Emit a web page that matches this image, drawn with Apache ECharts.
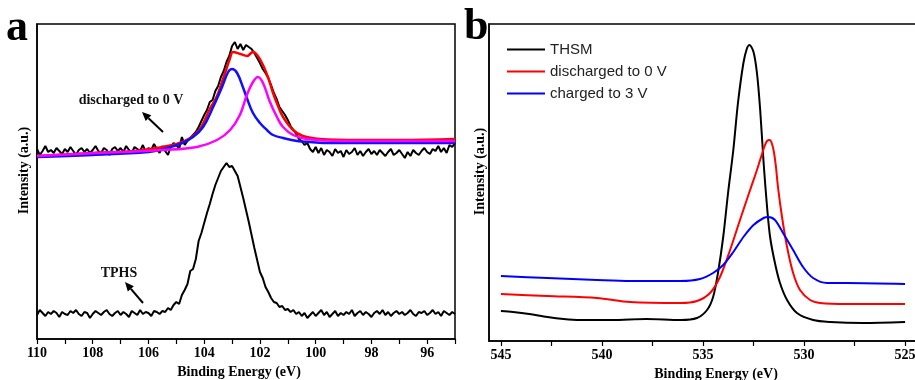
<!DOCTYPE html>
<html><head><meta charset="utf-8">
<script src="https://cdn.jsdelivr.net/npm/echarts@6/dist/echarts.min.js"></script>
<style>html,body{margin:0;padding:0;background:#fff}#c{width:915px;height:380px}</style>
</head><body><div id="c"></div>
<script>
// ---------- Panel a (Si 2p), energy grid 110 -> 95 eV, step 0.1 ----------
const aStartEnergy = 110, aStep = 0.1;
const aDischarged = [
190,184,188,193,187,189,186,191,188,185,
190,187,192,188,184,189,191,187,190,186,
189,193,188,186,191,189,184,190,192,188,
191,187,193,189,186,192,190,188,194,187,
191,189,195,190,186,193,188,184,192,196,
194,
190,202,194,198,201,204,207,212,218,224,
229,237,239,248,253,262,268,277,283,293,
297,290,295,289,294,292,290,286,281,276,
270,266,261,254,246,240,232,228,224,219,
213,209,205,200,198,194,196,190,187,192,
186,191,184,189,187,183,190,186,188,182,
189,185,187,191,184,188,183,187,190,185,
188,184,189,186,183,187,190,184,186,189,
185,181,187,183,189,186,184,188,191,187,
185,190,188,193,187,191,186,194,192,196
];
const aTPHS = [
24,29,26,23,27,25,28,26,22,27,
25,24,28,26,29,25,23,27,26,21,
25,28,26,24,27,29,25,23,26,28,
24,27,25,22,28,26,24,29,25,27,
26,23,28,27,25,
28,27,31,29,34,37,35,44,49,55,
68,70,80,98,106,116,126,135,145,154,
161,168,172,176,172,173,168,163,152,141,
129,117,104,91,79,67,61,52,47,41,
37,36,32,33,29,30,27,29,25,27,
23,26,21,24,27,23,
26,29,24,27,22,25,28,23,26,24,
27,25,29,23,26,28,24,27,25,22,
26,28,25,29,24,27,23,26,28,25,
27,24,26,29,25,23,27,26,28,24,
26,29,25,27,23,28,26,24,27,25
];
const aFitEnvelope = [[110,183],[108,186],[106.5,188],[105.5,192],[105,195],[104.5,201],[104.15,210],[103.8,230],[103.54,243],[103.35,258],[103.18,272],[103.07,281],[102.97,287],[102.7,285],[102.46,283],[102.25,287],[102.1,284],[101.89,274],[101.7,261],[101.53,246],[101.35,233],[101.17,222],[100.81,209],[100.46,203],[99.85,200],[98.5,199],[97,199],[95,200]];
const aFitPeak1 = [[110,182],[108,184],[106,187],[105.48,190],[104.87,195],[104.4,202],[104.04,212],[103.68,232],[103.36,252],[103.14,267],[103.0,270],[102.82,266],[102.6,251],[102.47,241],[102.25,226],[102.0,216],[101.75,209],[101.53,204],[101.17,201],[100.67,198],[100.2,197],[99.5,196],[97,196],[95,196]];
const aFitPeak2 = [[110,183],[107.85,186],[105.48,189],[104.26,192],[103.54,199],[103.07,209],[102.72,224],[102.47,244],[102.25,257],[102.07,262],[101.89,256],[101.64,237],[101.39,222],[101.17,212],[100.81,204],[100.31,200],[99.1,198],[95,198]];
const aTickLabels = [96,98,100,102,104,106,108,110];

// ---------- Panel b (O 1s) ----------
const bTHSM = [[545,30],[544.4,29],[543.6,27],[542.7,24],[541.9,22],[541.1,21],[539.5,21],[537.8,22],[536.1,21],[535.3,23],[534.8,31],[534.5,44],[534.26,68],[534.0,104],[533.76,148],[533.5,191],[533.27,238],[533.0,278],[532.82,293],[532.7,296],[532.5,289],[532.33,268],[532.17,231],[532.0,178],[531.83,134],[531.68,104],[531.44,78],[531.19,58],[530.84,41],[530.35,28],[529.55,21],[528.7,19],[527.08,18],[525,19]];
const bDischarged = [[545,47],[542.7,45],[540.25,43],[538.6,39],[536.1,38],[535.3,40],[534.65,48],[534.16,64],[533.66,91],[533.17,121],[532.67,151],[532.33,171],[532.08,187],[531.95,195],[531.83,200],[531.7,201],[531.6,198],[531.5,190],[531.4,176],[531.29,154],[531.09,124],[530.84,94],[530.54,68],[530.2,51],[529.7,41],[529.2,38],[527.87,37],[525,37]];
const bCharged = [[545,65],[542.7,63],[540.25,61],[538.6,60],[536.1,60],[535.15,62],[534.5,68],[534.0,76],[533.5,89],[533.0,104],[532.5,116],[532.0,123],[531.78,124],[531.44,121],[531.04,108],[530.54,91],[530.05,74],[529.55,63],[528.86,58],[527.87,58],[525,57]];
const bTickLabels = [525,530,535,540,545];
const bMinorTicks = [525,527.5,530,532.5,535,537.5,540,542.5,545];
const bSeriesNames = ['THSM','discharged to 0 V','charged to 3 V'];

function onGrid(vals){ return vals.map((v,i)=>[+(aStartEnergy - i*aStep).toFixed(1), v]); }

const serif = 'Liberation Serif';
const boldSerif = {fontFamily: serif, fontWeight: 'bold', fontSize: 14, color: '#000'};

const chart = echarts.init(document.getElementById('c'));
chart.setOption({
  animation: false,
  grid: [
    {left: 37, top: 24, width: 418, height: 315, show: true, borderColor: '#000', borderWidth: 1.5, backgroundColor: 'transparent', containLabel: false, outerBoundsMode: 'none'},
    {left: 489, top: 24, width: 428, height: 317, show: true, borderColor: '#000', borderWidth: 1.5, backgroundColor: 'transparent', containLabel: false, outerBoundsMode: 'none'}
  ],
  xAxis: [
    {gridIndex: 0, type: 'value', inverse: true, min: 95, max: 110, interval: 1,
     axisLine: {show: true, lineStyle: {color: '#000', width: 1.5}},
     axisTick: {show: true, inside: false, length: 5, lineStyle: {color: '#000', width: 1.2}},
     axisLabel: {margin: 7, ...boldSerif, formatter: v => aTickLabels.includes(v) ? String(v) : ''},
     splitLine: {show: false},
     name: 'Binding Energy (eV)', nameLocation: 'middle', nameGap: 19,
     nameTextStyle: {...boldSerif, padding: [0, 14, 0, 0]}},
    {gridIndex: 1, type: 'value', inverse: true, min: 524.41, max: 545.59,
     axisLine: {show: true, lineStyle: {color: '#000', width: 1.5}},
     axisTick: {show: true, inside: false, length: 5, customValues: bMinorTicks, lineStyle: {color: '#000', width: 1.2}},
     axisLabel: {margin: 7, ...boldSerif, customValues: bTickLabels, formatter: v => String(v)},
     splitLine: {show: false},
     name: 'Binding Energy (eV)', nameLocation: 'middle', nameGap: 21,
     nameTextStyle: {...boldSerif, padding: [0, 0, 0, 26]}}
  ],
  yAxis: [
    {gridIndex: 0, type: 'value', min: 0, max: 315,
     axisLine: {show: true, lineStyle: {color: '#000', width: 1.5}}, axisTick: {show: false}, axisLabel: {show: false}, splitLine: {show: false},
     name: 'Intensity (a.u.)', nameLocation: 'middle', nameGap: 6, nameRotate: 90,
     nameTextStyle: {...boldSerif, padding: [0, 0, 0, 22]}},
    {gridIndex: 1, type: 'value', min: 0, max: 317,
     axisLine: {show: true, lineStyle: {color: '#000', width: 1.5}}, axisTick: {show: false}, axisLabel: {show: false}, splitLine: {show: false},
     name: 'Intensity (a.u.)', nameLocation: 'middle', nameGap: 2, nameRotate: 90,
     nameTextStyle: {...boldSerif, padding: [0, 0, 0, 22]}}
  ],
  legend: {
    data: bSeriesNames, orient: 'vertical', left: 502, top: 37, itemWidth: 38, itemHeight: 14, itemGap: 7,
    textStyle: {fontFamily: 'Liberation Sans', fontSize: 15, color: '#222'}, icon: 'path://M0,6L38,6L38,8L0,8Z'
  },
  series: [
    {name: 'a-discharged', type: 'line', xAxisIndex: 0, yAxisIndex: 0, data: onGrid(aDischarged), symbol: 'none', lineStyle: {color: '#000', width: 2}, itemStyle: {color: '#000'}},
    {name: 'a-TPHS', type: 'line', xAxisIndex: 0, yAxisIndex: 0, data: onGrid(aTPHS), symbol: 'none', lineStyle: {color: '#000', width: 2}, itemStyle: {color: '#000'}},
    {name: 'a-envelope', type: 'line', xAxisIndex: 0, yAxisIndex: 0, data: aFitEnvelope, symbol: 'none', smooth: 0.4, lineStyle: {color: '#ff0000', width: 2.5}, itemStyle: {color: '#ff0000'}},
    {name: 'a-peak1', type: 'line', xAxisIndex: 0, yAxisIndex: 0, data: aFitPeak1, symbol: 'none', smooth: 0.4, lineStyle: {color: '#1010ff', width: 2.5}, itemStyle: {color: '#1010ff'}},
    {name: 'a-peak2', type: 'line', xAxisIndex: 0, yAxisIndex: 0, data: aFitPeak2, symbol: 'none', smooth: 0.4, lineStyle: {color: '#ff00ff', width: 2.5}, itemStyle: {color: '#ff00ff'}},
    {name: bSeriesNames[0], type: 'line', xAxisIndex: 1, yAxisIndex: 1, data: bTHSM, symbol: 'none', smooth: 0.3, lineStyle: {color: '#000', width: 2}, itemStyle: {color: '#000'}},
    {name: bSeriesNames[1], type: 'line', xAxisIndex: 1, yAxisIndex: 1, data: bDischarged, symbol: 'none', smooth: 0.3, lineStyle: {color: '#ff0000', width: 2}, itemStyle: {color: '#ff0000'}},
    {name: bSeriesNames[2], type: 'line', xAxisIndex: 1, yAxisIndex: 1, data: bCharged, symbol: 'none', smooth: 0.3, lineStyle: {color: '#0000ff', width: 2}, itemStyle: {color: '#0000ff'}}
  ],
  graphic: [
    {type: 'text', left: 6, top: 7, style: {text: 'a', fontFamily: serif, fontWeight: 'bold', fontSize: 44, fill: '#000'}},
    {type: 'text', left: 464, top: 6, style: {text: 'b', fontFamily: serif, fontWeight: 'bold', fontSize: 44, fill: '#000'}},
    {type: 'text', x: 131, y: 100, style: {text: 'discharged to 0 V', fontFamily: serif, fontWeight: 'bold', fontSize: 14, fill: '#111', align: 'center', verticalAlign: 'middle'}},
    {type: 'line', shape: {x1: 163, y1: 132, x2: 148.5, y2: 118.2}, style: {stroke: '#000', lineWidth: 2}},
    {type: 'polygon', shape: {points: [[142,112],[151.3,115.3],[145.7,121.1]]}, style: {fill: '#000'}},
    {type: 'text', x: 119, y: 273, style: {text: 'TPHS', fontFamily: serif, fontWeight: 'bold', fontSize: 14, fill: '#111', align: 'center', verticalAlign: 'middle'}},
    {type: 'line', shape: {x1: 143, y1: 303, x2: 130.9, y2: 288.8}, style: {stroke: '#000', lineWidth: 2}},
    {type: 'polygon', shape: {points: [[125,282],[133.9,286.2],[127.8,291.4]]}, style: {fill: '#000'}}
  ]
});
</script>
</body></html>
